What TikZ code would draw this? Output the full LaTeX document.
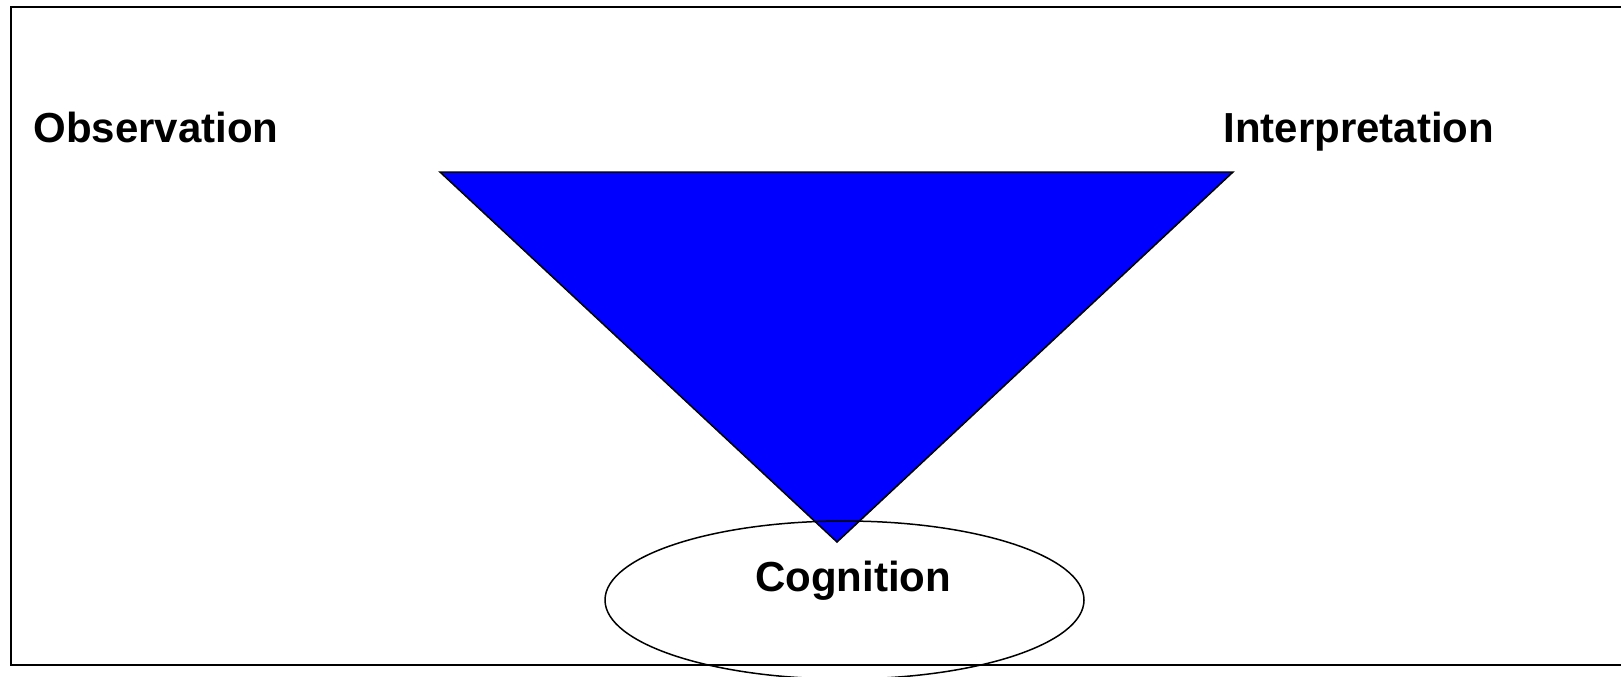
\documentclass[tikz,border=0pt]{standalone}
\usepackage{fontspec}
\setmainfont{Liberation Sans}
\usepackage{xcolor}
\usepackage{tikz}
\usetikzlibrary{positioning,calc}
\definecolor{WedgeBlue}{HTML}{0000FF}

\begin{document}
\begin{tikzpicture}[x=0.5pt, y=-0.5pt,
  every node/.style={font=\fontsize{21}{25}\bfseries\selectfont, inner sep=0pt},
  frame/.style={draw=black, line width=1.1pt},
  wedge/.style={draw=black, line width=0.75pt, fill=WedgeBlue, line join=miter},
  halo/.style={draw=black, line width=0.75pt}]
  \useasboundingbox (0,0) rectangle (1621,676);
  \clip (0,0) rectangle (1621,676);
  \draw[frame] (11,7) rectangle (1640,665);

  \node[anchor=base west] (obs) at (33,142) {Observation};
  \node[anchor=base west] (interp) at (1223,142) {Interpretation};

  \coordinate (tl) at (440,172);
  \coordinate (tr) at (1233,172);
  \coordinate (apex) at (837,542);
  \draw[wedge] (tl) -- (tr) -- (apex) -- cycle;

  \draw[halo] (844.5,600) ellipse [x radius=239.5, y radius=79];
  \node[anchor=base] (cog) at (853,591) {Cognition};
\end{tikzpicture}
\end{document}
